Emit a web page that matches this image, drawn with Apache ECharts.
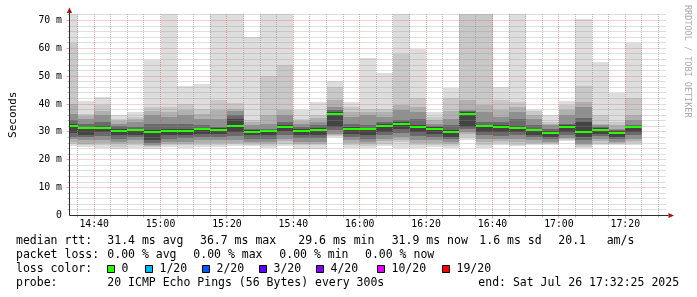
<!DOCTYPE html>
<html><head><meta charset="utf-8">
<script src="https://cdn.jsdelivr.net/npm/echarts@6/dist/echarts.min.js"></script>
<style>html,body{margin:0;padding:0;background:#fff}#c{width:697px;height:297px}</style>
</head><body><div id="c"></div>
<script>
// ---- time frame ----
const startTime = '14:32:25';
const endTime = '17:32:25';
const STEP = 5; // minutes per probe round (300 s)
// end time of each probe round (one smoke column each)
const barEnd = ['14:35','14:40','14:45','14:50','14:55','15:00','15:05','15:10','15:15','15:20',
  '15:25','15:30','15:35','15:40','15:45','15:50','15:55','16:00','16:05','16:10',
  '16:15','16:20','16:25','16:30','16:35','16:40','16:45','16:50','16:55','17:00',
  '17:05','17:10','17:15','17:20','17:25'];
const xTickLabels = ['14:40','15:00','15:20','15:40','16:00','16:20','16:40','17:00','17:20'];
const yMax = 72.33;

// ---- sorted ping RTTs (ms), rank k of 20 ----
const p1  = [24.8,24.6,24.4,24.0,24.3,24.0,24.5,24.4,24.6,24.6,25.0,25.0,24.2,24.8,23.8,24.0,28.2,24.3,24.3,25.0,24.4,24.4,24.6,24.4,27.0,24.2,25.4,24.8,25.2,25.2,26.8,24.2,25.2,25.2,25.4];
const p2  = [25.5,25.2,25.2,24.6,25.2,24.5,25.2,25.2,25.4,25.2,25.5,25.4,24.8,25.8,25.2,25.2,28.6,25.2,24.9,25.8,26.4,25.2,25.2,25.0,28.2,25.4,26.0,25.2,25.6,25.6,27.0,24.6,25.8,25.6,26.2];
const p3  = [26.4,25.8,26.0,25.5,26.0,24.9,25.8,25.8,26.2,26.0,26.2,25.9,25.5,26.6,25.8,25.8,29.0,26.0,25.5,26.6,27.2,26.0,26.0,25.8,29.2,26.5,26.6,26.4,26.2,26.0,27.3,25.2,26.7,26.0,26.9];
const p5  = [27.3,27.0,27.0,26.4,27.0,25.3,26.4,26.4,27.0,27.0,27.0,26.5,26.4,27.6,26.4,26.4,29.4,27.0,26.4,27.6,28.2,27.0,27.0,26.4,30.0,27.6,27.5,27.6,27.0,26.5,27.8,25.8,27.6,26.4,27.6];
const p7  = [28.3,28.0,28.5,27.6,28.0,26.2,27.6,27.8,28.2,28.2,28.5,27.6,27.6,29.0,27.8,27.8,30.6,28.2,27.6,28.8,29.7,28.4,28.2,27.4,31.0,28.8,28.5,28.8,28.0,27.4,28.8,27.0,28.5,27.3,28.8];
const p9  = [29.6,29.0,30.0,28.8,29.0,27.0,28.8,29.0,29.4,29.4,30.0,28.8,28.8,30.2,29.0,29.0,31.8,29.4,28.8,30.0,31.2,29.8,29.4,28.2,31.8,30.0,30.0,30.0,29.0,28.2,30.0,28.2,29.4,28.2,30.0];
const median = [32.0,31.3,31.5,30.5,30.6,29.8,30.5,30.5,30.9,30.8,32.1,30.0,30.3,31.9,30.5,30.8,36.6,31.2,30.9,32.3,33.0,31.9,31.1,29.8,36.6,32.1,31.9,31.4,30.6,29.6,31.8,30.1,30.8,29.6,31.8];
const p12 = [33.0,31.8,32.2,31.2,31.2,30.6,31.2,31.2,31.5,31.3,34.8,30.6,30.8,32.4,31.0,31.5,37.2,31.7,31.5,32.8,33.6,32.6,31.6,30.6,37.2,32.6,32.5,32.0,31.2,30.2,32.4,33.6,31.3,30.2,32.2];
const p14 = [34.2,33.0,33.6,32.0,31.8,33.0,33.0,33.0,32.4,31.8,36.0,31.2,31.2,33.6,31.8,32.4,38.0,33.0,32.6,33.6,34.2,34.8,32.0,32.5,37.6,33.5,33.5,34.5,32.4,31.2,33.0,35.0,31.8,30.8,32.6];
const p16 = [36.6,34.8,36.0,33.0,33.6,36.0,35.4,36.0,34.8,34.8,37.5,32.4,33.0,36.0,33.0,33.6,38.8,35.4,36.0,35.4,38.0,37.0,33.0,34.8,37.9,37.0,35.4,37.2,34.5,32.4,36.0,39.0,32.4,31.2,34.2];
const p18 = [40.0,35.8,37.5,34.0,34.5,37.5,37.0,38.0,36.5,38.0,38.4,33.5,36.0,38.0,34.0,35.0,41.4,37.0,37.2,37.0,39.6,39.0,34.2,37.5,41.4,39.6,37.8,39.0,36.0,33.0,37.8,40.8,33.0,32.4,36.0];
const p19 = [62.0,36.6,39.6,34.8,35.4,39.0,39.0,40.2,38.4,41.4,40.3,34.2,50.0,54.0,34.8,36.0,46.0,39.0,38.4,38.4,57.8,42.0,35.4,42.0,80.0,80.0,41.6,40.8,37.4,33.6,39.6,46.4,36.0,33.6,42.2];
const p20 = [80.0,41.1,42.5,36.2,37.0,55.9,80.0,46.4,47.1,80.0,80.0,64.2,80.0,80.0,38.0,40.8,48.3,40.8,56.6,51.2,80.0,59.6,37.2,45.9,80.0,80.0,46.0,80.0,38.0,36.0,41.0,70.5,55.2,44.0,62.0];

// ---- legend texts ----
const rttStats = {avg:'31.4', max:'36.7', min:'29.6', now:'31.9', sd:'1.6', amps:'20.1'};
const lossStats = {avg:'0.00', max:'0.00', min:'0.00', now:'0.00'};
const lossLabels = ['0','1/20','2/20','3/20','4/20','10/20','19/20'];
const lossCols = ['#26ff00','#00b8ff','#0059ff','#5e00ff','#7e00ff','#dd00ff','#ff0000'];
const probeText = '20 ICMP Echo Pings (56 Bytes) every 300s';
const endText = 'end: Sat Jul 26 17:32:25 2025';

// ---- helpers ----
function toMin(s){ const p = s.split(':').map(Number); return p[0]*60 + p[1] + (p[2]||0)/60; }
const xMin = toMin(startTime), xMax = toMin(endTime);
const MONO = '"DejaVu Sans Mono", monospace';
const GRID = 'rgba(143,143,143,0.6)';
const MGRID = 'rgba(222,80,80,0.5)';
const AXIS = '#2c2c2c';
const ARROW = '#b01010';

const layers = [
  [p1, p20, '#dddddd'], [p2, p19, '#c8c8c8'], [p3, p18, '#b0b0b0'],
  [p5, p16, '#909090'], [p7, p14, '#6a6a6a'], [p9, p12, '#444444']
];

function renderSmoke(params, api){
  const i = api.value(0);
  const end = api.value(1), start = end - STEP;
  const xa = Math.round(api.coord([start, 0])[0]);
  const xb = Math.round(api.coord([end, 0])[0]);
  const ch = [];
  layers.forEach(function(L){
    const ylo = Math.round(api.coord([start, L[0][i]])[1]);
    const yhi = Math.round(api.coord([start, L[1][i]])[1]);
    ch.push({type:'rect', shape:{x:xa, y:yhi, width:xb-xa, height:ylo-yhi}, style:{fill:L[2]}});
  });
  return {type:'group', children:ch};
}
function renderMedian(params, api){
  const end = api.value(1), start = end - STEP;
  const xa = Math.round(api.coord([start, 0])[0]);
  const xb = Math.round(api.coord([end, 0])[0]);
  const ym = api.coord([start, api.value(2)])[1];
  return {type:'rect', shape:{x:xa, y:Math.round(ym-1), width:xb-xa, height:2}, style:{fill:lossCols[0]}};
}
function px(v){ return Math.round(v - 0.5) + 0.5; }
function renderGrid(params, api){
  const ch = [];
  const x0 = px(api.coord([xMin,0])[0]), x1 = px(api.coord([xMax,0])[0]);
  const yb = px(api.coord([xMin,0])[1]), yt = api.coord([xMin,yMax])[1];
  for (let v = 2; v < yMax; v += 2){
    const major = v % 10 === 0;
    const y = px(api.coord([xMin, v])[1]);
    ch.push({type:'line', shape:{x1:x0+1, y1:y, x2:x1, y2:y}, style:{stroke: major?MGRID:GRID, lineWidth:1, lineDash:[1,1]}});
    ch.push({type:'line', shape:{x1:x0-(major?3:2), y1:y, x2:x0, y2:y}, style:{stroke: major?MGRID:GRID, lineWidth:1}});
  }
  for (let t = Math.ceil(xMin/5)*5; t < xMax; t += 5){
    const major = t % 20 === 0;
    const x = px(api.coord([t, 0])[0]);
    ch.push({type:'line', shape:{x1:x, y1:Math.round(yt), x2:x, y2:yb-1}, style:{stroke: major?MGRID:GRID, lineWidth:1, lineDash:[1,1]}});
    ch.push({type:'line', shape:{x1:x, y1:yb, x2:x, y2:yb+(major?3:2)}, style:{stroke: major?MGRID:GRID, lineWidth:1}});
  }
  return {type:'group', children:ch};
}
function renderAxes(params, api){
  const ch = [];
  const x0 = px(api.coord([xMin,0])[0]), x1 = api.coord([xMax,0])[0];
  const yb = px(api.coord([xMin,0])[1]), yt = api.coord([xMin,yMax])[1];
  ch.push({type:'line', shape:{x1:x0, y1:yb, x2:x0, y2:yt-2}, style:{stroke:AXIS, lineWidth:1}});
  ch.push({type:'line', shape:{x1:x0, y1:yb, x2:x1+2, y2:yb}, style:{stroke:AXIS, lineWidth:1}});
  ch.push({type:'polygon', shape:{points:[[x0, yt-6.5],[x0-2.6, yt-1],[x0+2.6, yt-1]]}, style:{fill:ARROW}});
  ch.push({type:'polygon', shape:{points:[[x1+7.5, yb],[x1+2, yb-2.6],[x1+2, yb+2.6]]}, style:{fill:ARROW}});
  xTickLabels.forEach(function(l){
    const x = api.coord([toMin(l), 0])[0];
    ch.push({type:'text', x:x, y:yb+9, style:{text:l, fill:'#000', font:'9.8px ' + MONO, textAlign:'center', textVerticalAlign:'middle'}});
  });
  return {type:'group', children:ch};
}

const smokeData = barEnd.map(function(t, i){ return [i, toMin(t), median[i]]; });

// ---- legend graphic ----
const LF = '11.5px ' + MONO;
function txt(x, y, s){ return {type:'text', x:x, y:y, style:{text:s, fill:'#000', font:LF, textVerticalAlign:'middle'}}; }
const g = [];
g.push(txt(16, 241, 'median rtt:'));
g.push(txt(107.3, 241, rttStats.avg + ' ms avg'));
g.push(txt(200, 241, rttStats.max + ' ms max'));
g.push(txt(298.3, 241, rttStats.min + ' ms min'));
g.push(txt(391.7, 241, rttStats.now + ' ms now'));
g.push(txt(479.3, 241, rttStats.sd + ' ms sd'));
g.push(txt(558.3, 241, rttStats.amps));
g.push(txt(606.7, 241, 'am/s'));
g.push(txt(16, 255.5, 'packet loss:'));
g.push(txt(107.3, 255.5, lossStats.avg + ' % avg'));
g.push(txt(193.3, 255.5, lossStats.max + ' % max'));
g.push(txt(279.3, 255.5, lossStats.min + ' % min'));
g.push(txt(365, 255.5, lossStats.now + ' % now'));
g.push(txt(16, 269.5, 'loss color:'));
const sqX = [107.5, 145.5, 202.5, 259.5, 316.5, 377.5, 442.5];
lossLabels.forEach(function(l, i){
  g.push({type:'rect', shape:{x:sqX[i], y:265.5, width:7, height:7}, style:{fill:lossCols[i], stroke:'#000', lineWidth:1}});
  g.push(txt(sqX[i] + 14, 269.5, l));
});
g.push(txt(16, 283.5, 'probe:'));
g.push(txt(107.3, 283.5, probeText));
g.push(txt(478.3, 283.5, endText));
g.push({type:'text', x:687, y:5, rotation:-Math.PI/2, style:{text:'RRDTOOL / TOBI OETIKER', fill:'#a8a8a8', font:'8.5px ' + MONO, textAlign:'left', textVerticalAlign:'middle'}});

const chart = echarts.init(document.getElementById('c'), null, {renderer:'canvas', width:697, height:297});
chart.setOption({
  animation:false,
  backgroundColor:'#ffffff',
  grid:{left:66.5, top:14, width:600, height:201.5, containLabel:false},
  xAxis:{type:'value', min:xMin, max:xMax, axisLine:{show:false}, axisTick:{show:false}, axisLabel:{show:false}, splitLine:{show:false}},
  yAxis:{type:'value', min:0, max:yMax, interval:10,
    axisLine:{show:false}, axisTick:{show:false}, splitLine:{show:false},
    axisLabel:{showMaxLabel:false, margin:7, color:'#000', fontFamily:'DejaVu Sans Mono', fontSize:9.8,
      formatter:function(v){ if (v % 10 !== 0) return ''; return v === 0 ? '0' : (v + ' m'); }},
    name:'Seconds', nameLocation:'middle', nameRotate:90, nameGap:50,
    nameTextStyle:{color:'#000', fontFamily:'DejaVu Sans Mono', fontSize:11}},
  graphic:g,
  series:[
    {type:'custom', renderItem:renderSmoke, data:smokeData, encode:{x:1, y:2}, clip:true, z:2, silent:true},
    {type:'custom', renderItem:renderGrid, data:[[0, xMin, 0]], encode:{x:1, y:2}, clip:false, z:3, silent:true},
    {type:'custom', renderItem:renderMedian, data:smokeData, encode:{x:1, y:2}, clip:true, z:4, silent:true},
    {type:'custom', renderItem:renderAxes, data:[[0, xMin, 0]], encode:{x:1, y:2}, clip:false, z:5, silent:true}
  ]
});
</script>
</body></html>
